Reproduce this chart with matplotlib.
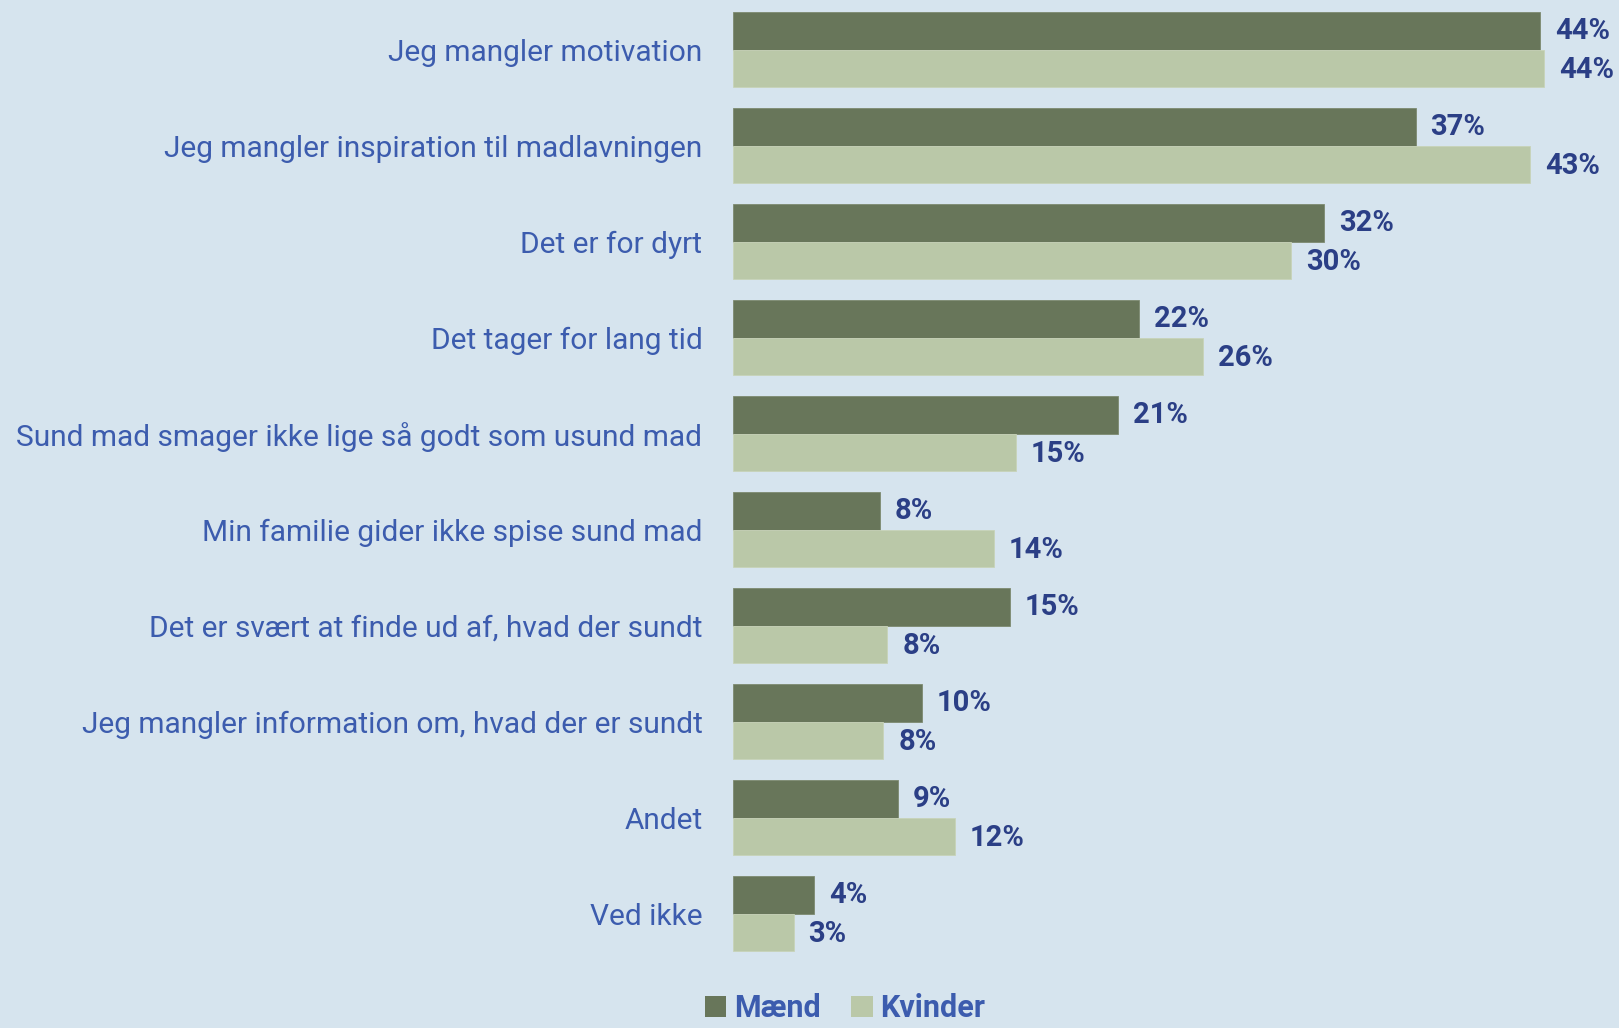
import matplotlib
matplotlib.use("Agg")
import matplotlib.pyplot as plt
import numpy as np
from matplotlib.patches import Patch

categories = [
    "Jeg mangler motivation",
    "Jeg mangler inspiration til madlavningen",
    "Det er for dyrt",
    "Det tager for lang tid",
    "Sund mad smager ikke lige så godt som usund mad",
    "Min familie gider ikke spise sund mad",
    "Det er svært at finde ud af, hvad der sundt",
    "Jeg mangler information om, hvad der er sundt",
    "Andet",
    "Ved ikke",
]
maend = [44.0, 37.2, 32.2, 22.1, 21.0, 8.0, 15.1, 10.3, 9.0, 4.4]
kvinder = [44.2, 43.45, 30.4, 25.6, 15.4, 14.2, 8.4, 8.2, 12.1, 3.3]
series_names = ["Mænd", "Kvinder"]

BG = "#D6E4EE"
DARK = "#68765A"
LIGHT = "#BAC8A8"
CAT_COL = "#3C5CAE"
VAL_COL = "#2B3F86"

W, H = 1619, 1028
fig = plt.figure(figsize=(W / 100, H / 100), dpi=100, facecolor=BG)
left_px = 733
ax = fig.add_axes([left_px / W, 0, 1 - left_px / W, 1])
ax.set_facecolor(BG)

px_per_pct = 18.35
spacing = 96.0
c0 = 49.6
ax.set_xlim(0, (W - left_px) / px_per_pct)
ax.set_ylim((H - c0) / spacing, -c0 / spacing)

y = np.arange(len(categories))
bh = 0.39
ax.barh(y - bh / 2, maend, height=bh, color=DARK, edgecolor="#7d8a70", linewidth=0.6)
ax.barh(y + bh / 2, kvinder, height=bh, color=LIGHT, edgecolor="#c8d3b9", linewidth=0.6)

off = 15 / px_per_pct
for i in range(len(categories)):
    ax.text(maend[i] + off, y[i] - bh / 2, f"{round(maend[i])}%", va="center", ha="left",
            fontsize=21, fontweight="bold", color=VAL_COL, family="Roboto")
    ax.text(kvinder[i] + off, y[i] + bh / 2 + 0.02, f"{round(kvinder[i])}%", va="center", ha="left",
            fontsize=21, fontweight="bold", color=VAL_COL, family="Roboto")

ax.set_yticks(y)
ax.set_yticklabels(categories, fontsize=21.5, color=CAT_COL, family="Roboto", fontweight="normal")
ax.tick_params(axis="y", length=0, pad=22)
ax.set_xticks([])
for s in ax.spines.values():
    s.set_visible(False)

handles = [Patch(facecolor=DARK, edgecolor="none"), Patch(facecolor=LIGHT, edgecolor="none")]
leg = fig.legend(handles, series_names, loc="center", bbox_to_anchor=(845 / W, 1 - 1008 / H),
                 ncol=2, frameon=False, handlelength=0.7, handleheight=0.7, handletextpad=0.25,
                 columnspacing=1.0, prop={"family": "Roboto", "weight": "bold", "size": 22})
for t in leg.get_texts():
    t.set_color(CAT_COL)

fig.savefig("out.png", dpi=100, facecolor=BG)
